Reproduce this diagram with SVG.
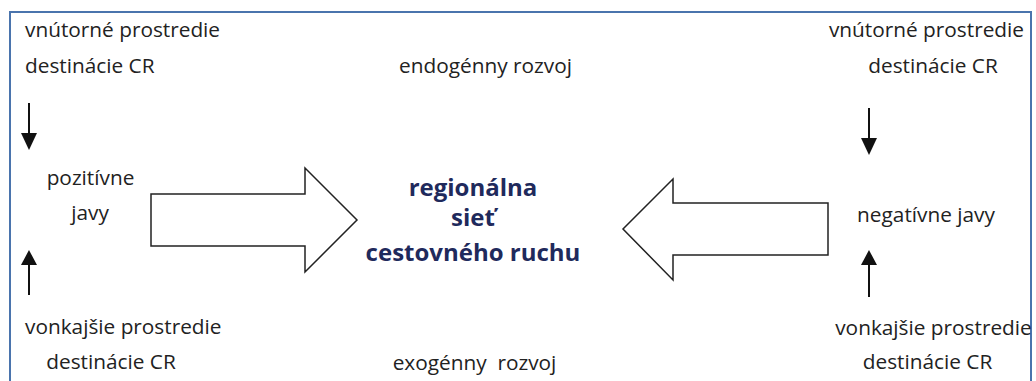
<svg xmlns="http://www.w3.org/2000/svg" width="1036" height="381" viewBox="0 0 1036 381">
<style>
.t{font-family:"Open Sans","Liberation Sans",sans-serif;font-size:20.8px;fill:#222;}
.m{text-anchor:middle;}
.c{font-family:"Open Sans","Liberation Sans",sans-serif;font-size:24px;font-weight:bold;fill:#1f2a5c;text-anchor:middle;}
.blk{fill:#fff;stroke:#222;stroke-width:1.5;stroke-linejoin:miter;}
.ln{stroke:#111;stroke-width:2;fill:none;}
.hd{fill:#111;}
</style>
<rect x="10" y="12" width="1021" height="380" fill="#fff" stroke="#4a74ad" stroke-width="2"/>
<g id="top-left"><text class="t" x="25" y="37">vnútorné prostredie</text><text class="t" x="25" y="73">destinácie CR</text></g>
<g id="endogenny"><text class="t m" x="485.5" y="73">endogénny rozvoj</text></g>
<g id="top-right"><text class="t m" x="926.5" y="37">vnútorné prostredie</text><text class="t m" x="933" y="73">destinácie CR</text></g>
<g id="pozitivne"><text class="t m" x="90.5" y="185">pozitívne</text><text class="t m" x="90" y="220">javy</text></g>
<g id="center"><text class="c" x="473" y="196">regionálna</text><text class="c" x="473" y="226">sieť</text><text class="c" x="473" y="261">cestovného ruchu</text></g>
<g id="negativne"><text class="t m" x="926" y="222">negatívne javy</text></g>
<g id="bottom-left"><text class="t" x="25" y="334">vonkajšie prostredie</text><text class="t m" x="111" y="369">destinácie CR</text></g>
<g id="exogenny"><text class="t m" x="474.5" y="370" style="white-space:pre">exogénny  rozvoj</text></g>
<g id="bottom-right"><text class="t m" x="933.5" y="335">vonkajšie prostredie</text><text class="t m" x="927.5" y="369">destinácie CR</text></g>
<g id="connectors">
<polygon class="blk" points="151,194 305,194 305,168 357,220 305,272 305,246 151,246"/>
<polygon class="blk" points="828,203 673,203 673,179 623,229 673,280 673,255 828,255"/>
<line class="ln" x1="29" y1="103" x2="29" y2="136"/><polygon class="hd" points="21,133 37,133 29,150"/>
<line class="ln" x1="29" y1="295" x2="29" y2="262"/><polygon class="hd" points="21,265 37,265 29,250"/>
<line class="ln" x1="869" y1="108" x2="869" y2="141"/><polygon class="hd" points="861,138 877,138 869,155"/>
<line class="ln" x1="869" y1="297" x2="869" y2="262"/><polygon class="hd" points="861,265 877,265 869,250"/>
</g>
</svg>
